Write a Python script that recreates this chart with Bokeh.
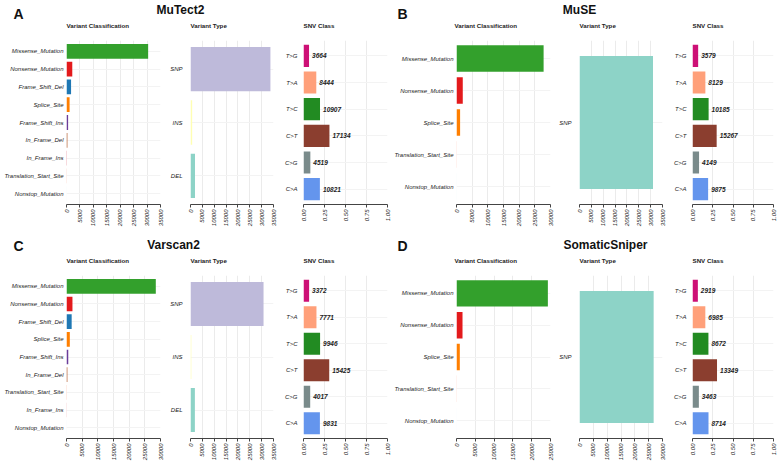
import math
from bokeh.plotting import figure
from bokeh.layouts import column, row
from bokeh.models import Range1d, FactorRange, FixedTicker, PrintfTickFormatter, ColumnDataSource
from bokeh.core.properties import value
from bokeh.embed import file_html
from bokeh.resources import INLINE

FONT = "Liberation Sans"

# ---------------- data ----------------
panel_letters = ["A", "B", "C", "D"]
caller_names = ["MuTect2", "MuSE", "Varscan2", "SomaticSniper"]
subplot_titles = ["Variant Classification", "Variant Type", "SNV Class"]

snv_classes = ["T>G", "T>A", "T>C", "C>T", "C>G", "C>A"]

mutect2_vc_classes = ["Missense_Mutation", "Nonsense_Mutation", "Frame_Shift_Del", "Splice_Site",
                      "Frame_Shift_Ins", "In_Frame_Del", "In_Frame_Ins", "Translation_Start_Site",
                      "Nonstop_Mutation"]
mutect2_vc_counts = [30400, 2150, 1700, 1150, 600, 330, 140, 70, 25]
mutect2_vt_types = ["SNP", "INS", "DEL"]
mutect2_vt_counts = [33700, 700, 1900]
mutect2_snv_counts = [3664, 8444, 10907, 17134, 4519, 10821]

muse_vc_classes = ["Missense_Mutation", "Nonsense_Mutation", "Splice_Site",
                   "Translation_Start_Site", "Nonstop_Mutation"]
muse_vc_counts = [27800, 2000, 1150, 50, 20]
muse_vt_types = ["SNP"]
muse_vt_counts = [31000]
muse_snv_counts = [3579, 8129, 10185, 15267, 4149, 9875]

varscan2_vc_classes = ["Missense_Mutation", "Nonsense_Mutation", "Frame_Shift_Del", "Splice_Site",
                       "Frame_Shift_Ins", "In_Frame_Del", "Translation_Start_Site", "In_Frame_Ins",
                       "Nonstop_Mutation"]
varscan2_vc_counts = [28500, 1900, 1650, 1060, 560, 280, 80, 60, 25]
varscan2_vt_types = ["SNP", "INS", "DEL"]
varscan2_vt_counts = [30800, 350, 1850]
varscan2_snv_counts = [3372, 7771, 9946, 15425, 4017, 9831]

somaticsniper_vc_classes = ["Missense_Mutation", "Nonsense_Mutation", "Splice_Site",
                            "Translation_Start_Site", "Nonstop_Mutation"]
somaticsniper_vc_counts = [24300, 1600, 880, 40, 15]
somaticsniper_vt_types = ["SNP"]
somaticsniper_vt_counts = [26800]
somaticsniper_snv_counts = [2919, 6985, 8672, 13349, 3463, 8714]

vc_axis_max = [35000, 30000, 30000, 25000]
vt_axis_max = [35000, 35000, 35000, 30000]
count_tick_step = 5000
snv_ticks = [0, 0.25, 0.5, 0.75, 1.0]

# ---------------- colours ----------------
vc_colors = {
    "Nonstop_Mutation": "#A6CEE3", "Frame_Shift_Del": "#1F78B4", "Missense_Mutation": "#33A02C",
    "Nonsense_Mutation": "#E31A1C", "Splice_Site": "#FF7F00", "Frame_Shift_Ins": "#6A3D9A",
    "In_Frame_Del": "#B15928", "In_Frame_Ins": "#D53E4F", "Translation_Start_Site": "#F46D43",
}
set3 = ["#8DD3C7", "#FFFFB3", "#BEBADA"]
snv_colors = {"C>T": "#8B3E2F", "C>G": "#7A8B8B", "C>A": "#6495ED",
              "T>A": "#FFA07A", "T>C": "#228B22", "T>G": "#CD1076"}

TXT = "#222222"
AX = "#444444"


def base_fig(width, height, left, right, top, bottom, x_max, factors, y_standoff):
    p = figure(width=width, height=height, output_backend="svg", toolbar_location=None,
               x_range=Range1d(0, x_max),
               y_range=FactorRange(factors=list(reversed(factors)), range_padding=0.025),
               min_border_left=left, min_border_right=right,
               min_border_top=top, min_border_bottom=bottom)
    p.outline_line_color = None
    p.background_fill_color = "white"
    p.border_fill_color = "white"
    p.title.text = ""
    p.xaxis.major_label_orientation = math.pi / 2
    p.xaxis.major_label_text_font = FONT
    p.xaxis.major_label_text_font_size = "6px"
    p.xaxis.major_label_text_font_style = "italic"
    p.xaxis.major_label_text_color = TXT
    p.xaxis.major_label_standoff = 2
    p.xaxis.axis_line_color = AX
    p.xaxis.major_tick_line_color = AX
    p.xaxis.major_tick_out = 3
    p.xaxis.major_tick_in = 0
    p.xaxis.minor_tick_line_color = None
    p.yaxis.axis_line_color = None
    p.yaxis.major_tick_line_color = None
    p.yaxis.major_tick_out = 0
    p.yaxis.major_tick_in = 0
    p.yaxis.minor_tick_line_color = None
    p.yaxis.major_label_text_font = FONT
    p.yaxis.major_label_text_font_size = "6px"
    p.yaxis.major_label_text_font_style = "italic"
    p.yaxis.major_label_text_color = TXT
    p.yaxis.major_label_standoff = y_standoff
    p.xgrid.grid_line_color = "#ebebeb"
    p.ygrid.grid_line_color = "#f3f3f3"
    return p


def vc_plot(classes, counts, x_max, width, height, left, right, top, bottom):
    ticks = list(range(0, x_max + 1, count_tick_step))
    p = base_fig(width, height, left, right, top, bottom, x_max, classes, 3)
    p.xaxis.ticker = FixedTicker(ticks=ticks)
    p.xgrid.ticker = FixedTicker(ticks=ticks)
    src = ColumnDataSource(dict(y=classes, right=counts, color=[vc_colors[c] for c in classes]))
    p.hbar(y="y", right="right", left=0, height=0.83, color="color", line_color=None, source=src)
    return p


def vt_plot(types, counts, x_max, width, height, left, right, top, bottom):
    ticks = list(range(0, x_max + 1, count_tick_step))
    order = sorted(types)
    cols = [set3[order.index(t)] for t in types]
    p = base_fig(width, height, left, right, top, bottom, x_max, types, 8)
    p.xaxis.ticker = FixedTicker(ticks=ticks)
    p.xgrid.ticker = FixedTicker(ticks=ticks)
    src = ColumnDataSource(dict(y=types, right=counts, color=cols))
    p.hbar(y="y", right="right", left=0, height=0.83, color="color", line_color=None, source=src)
    return p


def snv_plot(counts, width, height, left, right, top, bottom):
    total = float(sum(counts))
    frac = [c / total for c in counts]
    p = base_fig(width, height, left, right, top, bottom, 1.0, snv_classes, 6)
    p.xaxis.ticker = FixedTicker(ticks=snv_ticks)
    p.xgrid.ticker = FixedTicker(ticks=snv_ticks)
    p.xaxis.formatter = PrintfTickFormatter(format="%.2f")
    src = ColumnDataSource(dict(y=snv_classes, right=frac, label=[str(c) for c in counts],
                                color=[snv_colors[c] for c in snv_classes]))
    p.hbar(y="y", right="right", left=0, height=0.83, color="color", line_color=None, source=src)
    p.text(x="right", y="y", text="label", source=src, x_offset=3,
           text_font=value(FONT), text_font_size=value("6.5px"), text_font_style="bold italic",
           text_color=TXT, text_baseline="middle", text_align="left")
    return p


# layout geometry: (canvas width, left border, right border) for the six sub-plots of a row
geo = [(165, 66, 5), (113, 25, 5), (113, 25, 4), (164, 63, 5), (112, 24, 5), (112, 25, 6)]
frame_left = []
_acc = 0
for w, l, r in geo:
    frame_left.append(_acc + l)
    _acc += w
TOTAL_W = _acc


def header(height, letters, letter_x, letter_y, titles, title_x, title_y, sub_y):
    p = figure(width=TOTAL_W, height=height, output_backend="svg", toolbar_location=None,
               x_range=Range1d(0, TOTAL_W), y_range=Range1d(0, height),
               x_axis_type=None, y_axis_type=None, min_border=0)
    p.outline_line_color = None
    p.grid.visible = False
    p.background_fill_color = "white"
    p.border_fill_color = "white"
    p.text(x=letter_x, y=[letter_y] * len(letters), text=letters, text_font=value(FONT),
           text_font_size=value("14px"), text_font_style="bold", text_color="#111111",
           text_align="left", text_baseline="top")
    p.text(x=title_x, y=[title_y] * len(titles), text=titles, text_font=value(FONT),
           text_font_size=value("12px"), text_font_style="bold", text_color="#111111",
           text_align="center", text_baseline="top")
    p.text(x=frame_left, y=[sub_y] * len(frame_left), text=subplot_titles * 2, text_font=value(FONT),
           text_font_size=value("6.2px"), text_font_style="bold", text_color=TXT,
           text_align="left", text_baseline="top")
    return p


datasets = [
    (mutect2_vc_classes, mutect2_vc_counts, mutect2_vt_types, mutect2_vt_counts, mutect2_snv_counts),
    (muse_vc_classes, muse_vc_counts, muse_vt_types, muse_vt_counts, muse_snv_counts),
    (varscan2_vc_classes, varscan2_vc_counts, varscan2_vt_types, varscan2_vt_counts, varscan2_snv_counts),
    (somaticsniper_vc_classes, somaticsniper_vc_counts, somaticsniper_vt_types,
     somaticsniper_vt_counts, somaticsniper_snv_counts),
]


def panel_row(idx_pair, height, top, bottom):
    figs = []
    for k, idx in enumerate(idx_pair):
        vcc, vcn, vtt, vtn, snv = datasets[idx]
        g = geo[3 * k: 3 * k + 3]
        figs.append(vc_plot(vcc, vcn, vc_axis_max[idx], g[0][0], height, g[0][1], g[0][2], top, bottom))
        figs.append(vt_plot(vtt, vtn, vt_axis_max[idx], g[1][0], height, g[1][1], g[1][2], top, bottom))
        figs.append(snv_plot(snv, g[2][0], height, g[2][1], g[2][2], top, bottom))
    return row(*figs, spacing=0)


h1 = header(30, [panel_letters[0], panel_letters[1]], [13, 397], 24.9,
            [caller_names[0], caller_names[1]], [180, 579], 27.3, 8.5)
r1 = panel_row((0, 1), 202, 10, 28)
h2 = header(33, [panel_letters[2], panel_letters[3]], [13, 397], 27.7,
            [caller_names[2], caller_names[3]], [173, 605], 27.3, 8.9)
r2 = panel_row((2, 3), 198, 10, 25)

layout = column(h1, r1, h2, r2, spacing=0)

with open("out.html", "w") as f:
    f.write(file_html(layout, INLINE))
